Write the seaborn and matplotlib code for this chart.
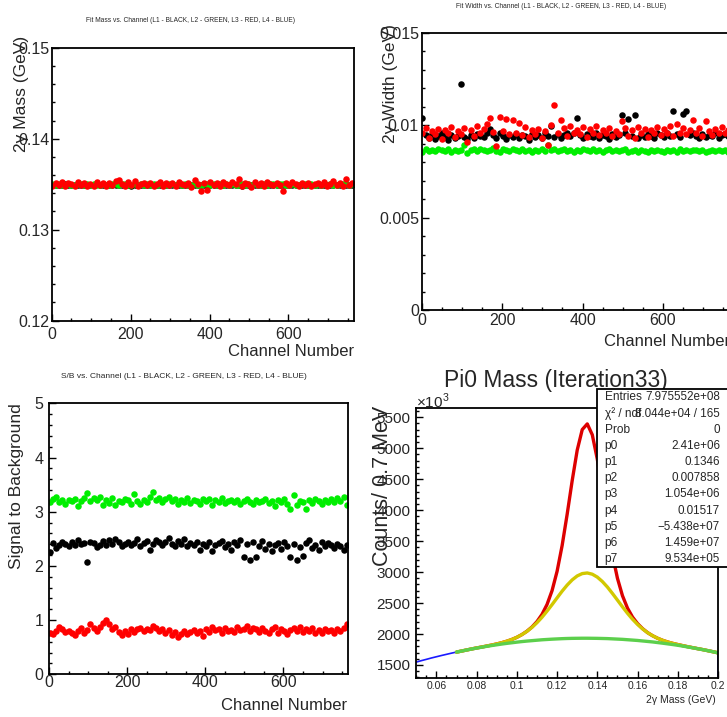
import numpy as np
import matplotlib
matplotlib.use("Agg")
import matplotlib.pyplot as plt
from matplotlib.patches import Rectangle
from matplotlib.ticker import MultipleLocator, FuncFormatter
import seaborn as sns

# =============================================================================
# DATOS
# =============================================================================
channels = np.arange(2, 768, 8)   # 96 canales muestreados

# Masa del ajuste (MeV)
mass_l1 = [134.90, 134.95, 134.88, 134.93, 134.97, 134.89, 134.94, 134.91, 134.96, 134.87, 134.92, 134.95,
           134.89, 134.93, 134.97, 134.90, 134.94, 134.88, 134.95, 134.92, 134.86, 134.96, 134.91, 134.93,
           134.89, 134.78, 134.94, 134.90, 134.95, 134.88, 134.92, 134.96, 134.89, 134.93, 134.91, 134.87,
           134.95, 134.90, 134.94, 134.88, 134.92, 134.96, 134.89, 134.93, 134.90, 134.95, 134.87, 134.92,
           134.94, 134.89, 134.96, 134.91, 134.93, 134.88, 134.95, 134.90, 134.92, 134.86, 134.94, 134.91,
           134.80, 134.93, 134.89, 134.96, 134.90, 134.94, 134.88, 134.92, 134.95, 134.89, 134.93, 134.91,
           134.87, 134.94, 134.90, 134.96, 134.89, 134.92, 134.95, 134.88, 134.93, 134.91, 134.96, 134.89,
           134.92, 134.94, 134.88, 134.95, 134.90, 134.93, 134.91, 134.87, 134.94, 134.90, 134.96, 134.92]
mass_l2 = [134.98, 134.92, 135.02, 134.95, 134.90, 135.00, 134.96, 134.93, 135.04, 134.97, 134.91, 134.99,
           134.95, 135.03, 134.94, 134.90, 135.01, 134.96, 134.92, 134.98, 135.05, 134.93, 134.97, 135.00,
           134.91, 134.96, 135.02, 134.94, 134.98, 134.90, 135.03, 134.95, 134.99, 134.92, 135.01, 134.96,
           134.93, 135.04, 134.97, 134.91, 134.99, 134.95, 135.02, 134.94, 134.90, 135.00, 134.96, 134.93,
           135.03, 134.97, 134.92, 134.99, 134.95, 135.01, 134.94, 134.98, 134.91, 135.02, 134.96, 134.93,
           135.00, 134.95, 134.98, 134.92, 135.04, 134.96, 134.90, 134.99, 134.94, 135.01, 134.97, 134.93,
           134.98, 135.02, 134.95, 134.91, 135.00, 134.96, 134.93, 135.03, 134.97, 134.92, 134.99, 134.95,
           135.01, 134.94, 134.98, 134.90, 135.02, 134.96, 134.93, 135.00, 134.97, 135.04, 134.95, 135.01]
mass_l3 = [134.85, 135.15, 134.95, 135.25, 134.80, 135.10, 135.00, 134.75, 135.20, 134.90, 135.15, 134.85,
           135.05, 134.75, 135.20, 134.95, 135.10, 134.80, 135.15, 134.95, 135.30, 135.50, 135.00, 134.80,
           135.20, 134.90, 135.35, 134.85, 135.05, 135.15, 134.95, 135.10, 134.80, 135.00, 135.20, 134.85,
           135.10, 134.95, 135.15, 134.80, 135.25, 135.00, 134.90, 135.15, 134.70, 135.45, 135.05, 134.20,
           135.10, 134.40, 135.20, 134.95, 135.10, 134.85, 135.25, 135.00, 134.90, 135.20, 135.05, 135.60,
           134.85, 135.15, 135.00, 134.70, 135.25, 134.95, 135.10, 134.85, 135.20, 135.00, 134.90, 135.15,
           134.95, 134.20, 135.10, 134.90, 135.20, 135.00, 134.85, 135.15, 134.95, 135.10, 134.80, 135.05,
           135.15, 134.90, 135.20, 134.75, 135.05, 135.30, 134.95, 135.10, 134.85, 135.60, 134.90, 135.10]

# Ancho del ajuste (MeV)
width_l1 = [10.40, 9.45, 9.30, 9.50, 9.25, 9.40, 9.55, 9.35, 9.20, 9.45, 9.30, 9.40,
            12.20, 9.35, 9.25, 9.45, 9.30, 9.50, 9.40, 9.35, 9.60, 9.80, 9.45, 9.30,
            9.55, 9.40, 9.25, 9.45, 9.35, 9.50, 9.30, 9.45, 9.40, 9.20, 9.50, 9.35,
            9.45, 9.30, 9.55, 9.40, 9.95, 9.35, 9.50, 9.30, 9.45, 9.60, 9.40, 9.55,
            10.40, 9.45, 9.30, 9.50, 9.40, 9.35, 9.55, 9.30, 9.45, 9.40, 9.25, 9.50,
            9.35, 9.45, 10.55, 9.60, 10.35, 9.40, 10.55, 9.30, 9.45, 9.35, 9.50, 9.40,
            9.30, 9.55, 9.45, 9.35, 9.60, 9.40, 10.75, 9.50, 9.35, 10.60, 10.75, 9.45,
            9.55, 9.40, 9.30, 9.50, 9.35, 9.45, 9.40, 9.55, 9.30, 9.45, 9.50, 9.40]
width_l2 = [8.55, 8.70, 8.62, 8.68, 8.58, 8.72, 8.64, 8.60, 8.70, 8.55, 8.66, 8.62,
            8.68, 8.90, 8.50, 8.65, 8.70, 8.60, 8.72, 8.64, 8.58, 8.68, 8.75, 8.62,
            8.55, 8.70, 8.64, 8.60, 8.72, 8.66, 8.58, 8.70, 8.62, 8.68, 8.56, 8.66,
            8.62, 8.70, 8.58, 8.95, 8.64, 8.72, 8.60, 8.66, 8.70, 8.62, 8.68, 8.56,
            8.66, 8.60, 8.72, 8.64, 8.58, 8.70, 8.62, 8.66, 8.56, 8.64, 8.70, 8.60,
            8.66, 8.58, 8.64, 8.70, 8.56, 8.62, 8.68, 8.54, 8.66, 8.60, 8.52, 8.64,
            8.58, 8.66, 8.62, 8.55, 8.68, 8.60, 8.64, 8.56, 8.70, 8.62, 8.66, 8.58,
            8.64, 8.68, 8.60, 8.66, 8.56, 8.62, 8.68, 8.60, 8.64, 8.58, 8.66, 8.55]
width_l3 = [9.60, 9.85, 9.30, 9.70, 9.50, 9.80, 9.25, 9.75, 9.55, 9.90, 9.35, 9.70,
            9.50, 9.85, 9.10, 9.75, 9.40, 9.95, 9.55, 9.80, 10.05, 10.40, 9.65, 8.85,
            10.45, 9.70, 10.35, 9.50, 10.30, 9.60, 10.10, 9.45, 9.90, 9.35, 9.75, 9.50,
            9.80, 9.30, 9.70, 8.90, 10.00, 11.10, 9.55, 10.30, 9.85, 9.40, 9.95, 9.60,
            9.75, 9.50, 9.90, 9.35, 9.80, 9.60, 9.95, 9.45, 9.75, 9.55, 9.85, 9.40,
            9.70, 9.50, 10.20, 9.85, 9.40, 9.75, 9.30, 9.90, 9.55, 9.80, 9.35, 9.75,
            9.60, 9.90, 9.45, 9.80, 9.55, 9.95, 9.40, 10.05, 9.60, 9.85, 9.50, 9.75,
            10.30, 9.55, 9.85, 9.40, 10.25, 9.70, 9.45, 9.80, 9.55, 9.90, 9.60, 9.75]

# Señal / fondo
sb_l1 = [2.25, 2.42, 2.33, 2.38, 2.44, 2.41, 2.36, 2.45, 2.39, 2.47, 2.40, 2.43,
         2.07, 2.44, 2.42, 2.35, 2.39, 2.46, 2.38, 2.48, 2.41, 2.50, 2.44, 2.36,
         2.40, 2.45, 2.38, 2.43, 2.49, 2.37, 2.42, 2.46, 2.29, 2.40, 2.47, 2.44,
         2.39, 2.45, 2.52, 2.41, 2.37, 2.46, 2.40, 2.49, 2.36, 2.43, 2.38, 2.45,
         2.30, 2.41, 2.36, 2.44, 2.28, 2.39, 2.43, 2.46, 2.35, 2.41, 2.30, 2.45,
         2.38, 2.47, 2.17, 2.41, 2.10, 2.44, 2.17, 2.37, 2.46, 2.32, 2.40, 2.28,
         2.38, 2.42, 2.31, 2.44, 2.36, 2.17, 2.40, 2.10, 2.35, 2.18, 2.42, 2.47,
         2.33, 2.39, 2.30, 2.44, 2.36, 2.42, 2.38, 2.33, 2.41, 2.36, 2.30, 2.39]
sb_l2 = [3.18, 3.24, 3.28, 3.17, 3.22, 3.15, 3.21, 3.19, 3.23, 3.10, 3.20, 3.25,
         3.34, 3.19, 3.26, 3.21, 3.28, 3.13, 3.22, 3.16, 3.25, 3.12, 3.20, 3.18,
         3.24, 3.21, 3.15, 3.33, 3.20, 3.14, 3.22, 3.18, 3.27, 3.36, 3.21, 3.26,
         3.17, 3.23, 3.28, 3.19, 3.24, 3.14, 3.21, 3.18, 3.26, 3.16, 3.22, 3.20,
         3.15, 3.24, 3.19, 3.23, 3.13, 3.21, 3.18, 3.25, 3.16, 3.20, 3.22, 3.17,
         3.21, 3.15, 3.19, 3.23, 3.18, 3.14, 3.22, 3.17, 3.20, 3.24, 3.16, 3.19,
         3.10, 3.21, 3.17, 3.23, 3.15, 3.05, 3.30, 3.12, 3.20, 3.18, 3.05, 3.22,
         3.16, 3.24, 3.19, 3.14, 3.21, 3.17, 3.23, 3.18, 3.25, 3.20, 3.27, 3.12]
sb_l3 = [0.76, 0.74, 0.80, 0.88, 0.84, 0.78, 0.80, 0.76, 0.73, 0.80, 0.85, 0.77,
         0.82, 0.93, 0.86, 0.80, 0.88, 0.95, 1.01, 0.92, 0.84, 0.88, 0.78, 0.72,
         0.80, 0.75, 0.83, 0.78, 0.84, 0.86, 0.80, 0.84, 0.82, 0.90, 0.85, 0.79,
         0.83, 0.76, 0.81, 0.72, 0.78, 0.68, 0.75, 0.80, 0.74, 0.78, 0.82, 0.76,
         0.79, 0.71, 0.83, 0.78, 0.88, 0.81, 0.84, 0.77, 0.86, 0.80, 0.82, 0.78,
         0.87, 0.81, 0.84, 0.90, 0.79, 0.86, 0.83, 0.78, 0.85, 0.80, 0.77, 0.83,
         0.87, 0.76, 0.83, 0.79, 0.74, 0.82, 0.86, 0.80, 0.88, 0.78, 0.83, 0.79,
         0.85, 0.77, 0.82, 0.76, 0.84, 0.79, 0.81, 0.77, 0.83, 0.80, 0.86, 0.92]

# Espectro de masa 2 gamma (cuentas x 10^3), rejilla de 2.5 MeV
mass_x = np.round(np.arange(0.05, 0.20001, 0.0025), 4)
counts_data = [1547, 1570, 1591, 1613, 1633, 1653, 1672, 1691,
               1709, 1724, 1743, 1758, 1776, 1789, 1807, 1821, 1841, 1859, 1885, 1911,
               1948, 1990, 2046, 2112, 2202, 2316, 2479, 2699, 3015, 3426, 3935, 4474, 4971, 5299,
               5395, 5215, 4824, 4300, 3765, 3280, 2903, 2617, 2420, 2272, 2169, 2086, 2023, 1971,
               1932, 1897, 1872, 1848, 1831, 1811, 1796, 1778, 1764, 1747, 1732, 1713, 1697]
fit_start = 8   # el ajuste empieza en 0.07 GeV
fit_total = [1708, 1725, 1742, 1759, 1775, 1790, 1806, 1822, 1840, 1860, 1884, 1912,
             1947, 1991, 2045, 2113, 2201, 2317, 2477, 2701, 3013, 3428, 3933, 4476, 4969, 5301,
             5393, 5217, 4822, 4302, 3763, 3282, 2901, 2619, 2418, 2274, 2168, 2087, 2022, 1972,
             1931, 1898, 1871, 1849, 1830, 1812, 1795, 1779, 1763, 1748, 1731, 1714, 1696]
fit_wide = [1708, 1725, 1742, 1759, 1775, 1790, 1806, 1822, 1840, 1860, 1884, 1912,
            1947, 1990, 2043, 2107, 2183, 2271, 2370, 2475, 2584, 2692, 2790, 2874, 2938, 2976,
            2986, 2966, 2919, 2848, 2759, 2656, 2548, 2439, 2335, 2239, 2155, 2083, 2021, 1972,
            1931, 1898, 1871, 1849, 1830, 1812, 1795, 1779, 1763, 1748, 1731, 1714, 1696]
fit_bkg = [1708, 1725, 1742, 1758, 1773, 1787, 1801, 1814, 1826, 1838, 1849, 1859,
           1869, 1878, 1886, 1893, 1900, 1907, 1912, 1917, 1921, 1925, 1928, 1930, 1931, 1932,
           1932, 1931, 1930, 1928, 1926, 1922, 1918, 1914, 1908, 1902, 1896, 1888, 1880, 1872,
           1862, 1852, 1841, 1830, 1818, 1805, 1791, 1777, 1762, 1747, 1731, 1714, 1696]

stat_names = ['Entries', 'χ² / ndf', 'Prob', 'p0', 'p1', 'p2', 'p3', 'p4', 'p5', 'p6', 'p7']
stat_values = ['7.975552e+08', '8.044e+04 / 165', '0', '2.41e+06', '0.1346', '0.007858',
               '1.054e+06', '0.01517', '\u22125.438e+07', '1.459e+07', '9.534e+05']

LEYENDA = '(L1 - BLACK, L2 - GREEN, L3 - RED, L4 - BLUE)'

# =============================================================================
# ESTILO
# =============================================================================
sns.set_style("ticks")
plt.rcParams['font.family'] = ['Liberation Sans', 'DejaVu Sans']
plt.rcParams['mathtext.fontset'] = 'custom'
plt.rcParams['mathtext.rm'] = 'Liberation Sans'

W, H = 727, 717
fig = plt.figure(figsize=(W / 100, H / 100), dpi=100)
fig.patch.set_facecolor('white')

C_NEGRO, C_VERDE, C_ROJO = 'black', '#00ee00', '#ff0000'


def px(l, t, r, b):
    return [l / W, 1 - b / H, (r - l) / W, (b - t) / H]


def ejes_root(rect, xlim, ylim, xmaj, xmin, ymaj, ymin, xpad, ypad, xfs, yfs):
    ax = fig.add_axes(px(*rect))
    ax.set_xlim(*xlim)
    ax.set_ylim(*ylim)
    ax.xaxis.set_major_locator(MultipleLocator(xmaj))
    ax.xaxis.set_minor_locator(MultipleLocator(xmin))
    ax.yaxis.set_major_locator(MultipleLocator(ymaj))
    ax.yaxis.set_minor_locator(MultipleLocator(ymin))
    fmt = FuncFormatter(lambda v, p: '%g' % round(v, 6))
    ax.xaxis.set_major_formatter(fmt)
    ax.yaxis.set_major_formatter(fmt)
    ax.tick_params(which='both', direction='in', top=False, right=False, color='black', width=1)
    ax.tick_params(which='major', length=5)
    ax.tick_params(which='minor', length=2.5)
    ax.tick_params(axis='x', pad=xpad, labelsize=xfs)
    ax.tick_params(axis='y', pad=ypad, labelsize=yfs)
    for s in ax.spines.values():
        s.set_linewidth(1.3)
        s.set_color('black')
    return ax


def puntos(ax, y, color):
    sns.scatterplot(x=channels, y=y, color=color, s=22, linewidth=0, ax=ax, legend=False)


def texto(x, y, s, **kw):
    return fig.text(x / W, 1 - y / H, s, **kw)


# =============================================================================
# 1. MASA vs CANAL
# =============================================================================
ax1 = ejes_root((51.7, 47.7, 354, 320.7), (0, 766), (0.12, 0.15), 200, 50, 0.01, 0.002,
                4.5, 1.8, 11.5, 11.5)
puntos(ax1, np.array(mass_l1) / 1000, C_NEGRO)
puntos(ax1, np.array(mass_l2) / 1000, C_VERDE)
puntos(ax1, np.array(mass_l3) / 1000, C_ROJO)
ax1.set_xlabel(''); ax1.set_ylabel('')
texto(191, 21, 'Fit Mass vs. Channel ' + LEYENDA, fontsize=4.8, ha='center', va='center')
texto(354, 352, 'Channel Number', fontsize=12, ha='right', va='center')
texto(22, 36, '2γ Mass (GeV)', fontsize=12.5, rotation=90, ha='center', va='top')

# =============================================================================
# 2. ANCHO vs CANAL
# =============================================================================
ax2 = ejes_root((421.6, 32.7, 729.8, 310), (0, 766), (0, 0.015), 200, 50, 0.005, 0.001,
                2, 1.9, 11.5, 11.5)
puntos(ax2, np.array(width_l1) / 1000, C_NEGRO)
puntos(ax2, np.array(width_l2) / 1000, C_VERDE)
puntos(ax2, np.array(width_l3) / 1000, C_ROJO)
ax2.set_xlabel(''); ax2.set_ylabel('')
texto(561, 6, 'Fit Width vs. Channel ' + LEYENDA, fontsize=4.8, ha='center', va='center')
texto(729.8, 342, 'Channel Number', fontsize=12, ha='right', va='center')
texto(390.7, 24, '2γ Width (GeV)', fontsize=12.5, rotation=90, ha='center', va='top')

# =============================================================================
# 3. S/B vs CANAL
# =============================================================================
ax3 = ejes_root((49, 403.3, 348.3, 674.3), (0, 766), (0, 5), 200, 50, 1, 0.2,
                0.7, 4, 11.5, 11.5)
puntos(ax3, sb_l1, C_NEGRO)
puntos(ax3, sb_l2, C_VERDE)
puntos(ax3, sb_l3, C_ROJO)
ax3.set_xlabel(''); ax3.set_ylabel('')
texto(183.5, 377, 'S/B vs. Channel ' + LEYENDA, fontsize=6, ha='center', va='center')
texto(347, 706, 'Channel Number', fontsize=12, ha='right', va='center')
texto(16.7, 403, 'Signal to Background', fontsize=12.5, rotation=90, ha='center', va='top')

# =============================================================================
# 4. ESPECTRO DE MASA CON AJUSTE
# =============================================================================
ax4 = ejes_root((416.3, 408.3, 718, 678.3), (0.05, 0.2), (1285, 5645), 0.02, 0.005, 500, 100,
                2, 4, 7.5, 11)
fx = mass_x[fit_start:]
sns.lineplot(x=mass_x, y=counts_data, color='#1a1aff', linewidth=1.2, estimator=None, ax=ax4)
ax4.vlines(mass_x[-1], 1285, counts_data[-1], color='#1a1aff', linewidth=1.2)
sns.lineplot(x=fx, y=fit_total, color='#dd0000', linewidth=2.4, estimator=None, ax=ax4)
sns.lineplot(x=fx, y=fit_wide, color='#d2c800', linewidth=2.4, estimator=None, ax=ax4)
sns.lineplot(x=fx, y=fit_bkg, color='#5ccf4c', linewidth=2.4, estimator=None, ax=ax4)
ax4.set_xlabel(''); ax4.set_ylabel('')

texto(555.5, 381, 'Pi0 Mass (Iteration33)', fontsize=16.5, ha='center', va='center', zorder=1)
texto(415.7, 401, '×10$^{3}$', fontsize=11, ha='left', va='center')
texto(715.7, 700, '2γ Mass (GeV)', fontsize=7.5, ha='right', va='center')
texto(382, 406, 'Counts/ 0.7 MeV', fontsize=15.5, rotation=90, ha='center', va='top', zorder=2)

# Caja de estadísticas
caja_t, caja_b, caja_l = 389.3, 567.3, 597.3
fig.patches.append(Rectangle((caja_l / W, 1 - caja_b / H), (W + 10 - caja_l) / W,
                             (caja_b - caja_t) / H, transform=fig.transFigure,
                             facecolor='white', edgecolor='black', linewidth=1.3, zorder=5))
fila = (caja_b - caja_t) / len(stat_names)
for k, (nombre, valor) in enumerate(zip(stat_names, stat_values)):
    yc = caja_t + fila * (k + 0.5)
    texto(604.7, yc, nombre, fontsize=8.6, ha='left', va='center', zorder=6)
    texto(720, yc, valor, fontsize=8.4, ha='right', va='center', zorder=6)

plt.savefig('out.png', dpi=100)
plt.close()
